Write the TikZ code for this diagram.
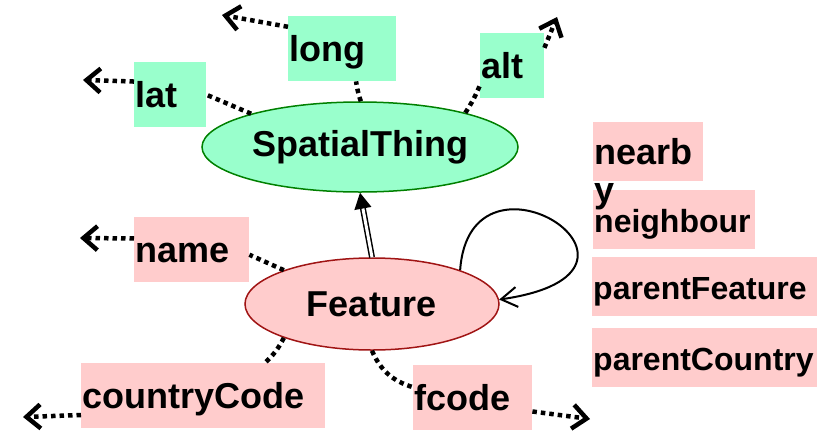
\documentclass[tikz,border=0pt]{standalone}
\usepackage{fontspec}
\setmainfont{Liberation Sans}
\usetikzlibrary{shapes.geometric,arrows.meta}
\definecolor{thingGreen}{RGB}{153,255,204}
\definecolor{thingEdge}{RGB}{0,128,0}
\definecolor{featPink}{RGB}{255,204,204}
\definecolor{featEdge}{RGB}{160,20,20}

\begin{document}
\begin{tikzpicture}[x=1pt,y=1pt,
	every node/.style={font=\bfseries\fontsize{36}{38}\selectfont},
	cls/.style={ellipse, draw=#1, line width=1.5pt, inner sep=0pt},
	prop/.style={anchor=north west, fill=#1, inner xsep=1pt, inner ysep=0pt, text height=26pt, text depth=0pt, align=left},
	narrow/.style={font=\bfseries\fontsize{32}{38}\selectfont},
	attr/.style={line width=4.5pt, dash pattern=on 4.5pt off 4pt},
	attrend/.style={attr, -{Straight Barb[length=14pt,width=24pt]}},
	isa/.style={double, double distance=3pt, line width=1.5pt, -{Triangle[length=16pt,width=17pt]}},
	selfloop/.style={line width=2pt, -{Straight Barb[length=16pt,width=20pt]}}]
	\useasboundingbox (0,0) rectangle (817,-432);
	% classes
	\node[cls=thingEdge, fill=thingGreen, minimum width=316, minimum height=90] (spatial) at (360,-147) {SpatialThing};
	\node[cls=featEdge, fill=featPink, minimum width=254, minimum height=92] (feature) at (372,-304) {Feature};
	% properties
	\node[prop=thingGreen, text width=70, minimum height=65] (lat) at (134,-62) {lat};
	\node[prop=thingGreen, text width=106, minimum height=65] (long) at (288,-16) {long};
	\node[prop=thingGreen, text width=62, minimum height=65] (alt) at (480,-33) {alt};
	\node[prop=featPink, narrow, text width=160, minimum height=59] (neighbour) at (593,-190) {neighbour};
	\node[prop=featPink, text width=108, minimum height=59] (nearby) at (593,-122) {nearb\\y};
	\node[prop=featPink, narrow, text width=223, minimum height=59] (parentFeature) at (592,-257) {parentFeature};
	\node[prop=featPink, narrow, text width=223, minimum height=59] (parentCountry) at (592,-328) {parentCountry};
	\node[prop=featPink, text width=113, minimum height=65] (name) at (134,-217) {name};
	\node[prop=featPink, text width=242, minimum height=65] (countryCode) at (81,-363) {countryCode};
	\node[prop=featPink, text width=117, minimum height=65] (fcode) at (413,-365) {fcode};
	% free ends
	\coordinate (latEnd) at (83,-80);
	\coordinate (longEnd) at (222,-15);
	\coordinate (altEnd) at (557,-17);
	\coordinate (nameEnd) at (80,-238);
	\coordinate (codeEnd) at (23,-417);
	\coordinate (fcodeEnd) at (590,-419);
	% links
	\draw[attr] (spatial.163) -- (lat.east);
	\draw[attrend] (lat.160) -- (latEnd);
	\draw[attr] (spatial.89) to[bend left=5] (long.-67);
	\draw[attrend] (long.158) -- (longEnd);
	\draw[attr] (spatial.18) to[bend right=5] (alt.211);
	\draw[attrend] (alt.29) -- (altEnd);
	\draw[attr] (feature.159) -- (name.-5);
	\draw[attrend] (name.169) -- (nameEnd);
	\draw[attr] (feature.201) to[bend left=10] (countryCode.28);
	\draw[attrend] (countryCode.189) -- (codeEnd);
	\draw[attr] (feature.-90) to[bend right=25] (fcode.170);
	\draw[attrend] (fcode.-13) -- (fcodeEnd);
	\draw[isa] (feature.north) -- (spatial.south);
	\draw[selfloop] (feature.21) .. controls (470,-130) and (690,-272) .. (feature.2);
\end{tikzpicture}
\end{document}
